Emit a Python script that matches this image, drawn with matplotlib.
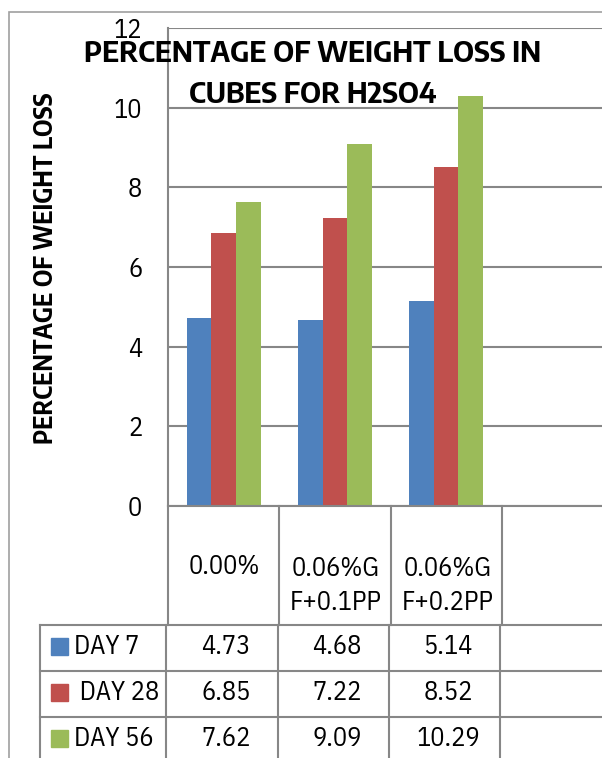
import numpy as np
import matplotlib
matplotlib.use("Agg")
import matplotlib.pyplot as plt
from matplotlib.patches import Rectangle
from matplotlib.lines import Line2D
from matplotlib.transforms import blended_transform_factory

plt.rcParams['font.family'] = ['IBM Plex Sans Condensed', 'DejaVu Sans']
BOLDFONT = ['Encode Sans Semi Condensed', 'DejaVu Sans']

# ---- data ----
categories = ['0.00%', '0.06%G\nF+0.1PP', '0.06%G\nF+0.2PP', '']
series_names = ['DAY 7', ' DAY 28', 'DAY 56']
day7 = [4.73, 4.68, 5.14]
day28 = [6.85, 7.22, 8.52]
day56 = [7.62, 9.09, 10.29]
series_values = [day7, day28, day56]
colors = ['#4F81BD', '#C0504D', '#9BBB59']
yticks = [0, 2, 4, 6, 8, 10, 12]
title = 'PERCENTAGE OF WEIGHT LOSS IN\nCUBES FOR H2SO4'
ylabel = 'PERCENTAGE OF WEIGHT LOSS'

W, H = 602, 758
GRID = '#878787'
TXT = 19


def fy(py):
    return 1 - py / H


fig = plt.figure(figsize=(W / 100, H / 100), dpi=100)

# outer chart border
fig.patches.append(Rectangle((9 / W, -0.1), 1.2, fy(12) + 0.1, transform=fig.transFigure,
                             fill=False, edgecolor='#A0A0A0', lw=1.2))

ax = fig.add_axes([168 / W, fy(506), (613 - 168) / W, (506 - 28) / H])
n = len(categories)
x = np.arange(n)
bw = 0.222
for i, (vals, c) in enumerate(zip(series_values, colors)):
    ax.bar(x[:len(vals)] + (i - 1) * bw, vals, width=bw, color=c, zorder=3)

ax.set_xlim(-0.5, n - 0.5)
ax.set_ylim(0, 12)
ax.set_yticks(yticks)
ax.set_yticklabels([str(t) for t in yticks], fontsize=TXT)
ax.tick_params(axis='y', length=0, pad=18.5)
ax.set_xticks([])
ax.yaxis.grid(True, color=GRID, lw=1.5, zorder=0)
for s in ['right', 'bottom', 'top']:
    ax.spines[s].set_visible(False)
ax.spines['left'].set_color(GRID)
ax.spines['left'].set_linewidth(1.5)
ax.axhline(0, color=GRID, lw=1.5, zorder=4, clip_on=False)

# ---- data table below the axes ----
tr = blended_transform_factory(ax.transData, fig.transFigure)
row_tops = [625, 671, 717, 763]
bounds = np.arange(n + 1) - 0.5
for b in bounds:
    fig.add_artist(Line2D([b, b], [fy(506), fy(625)], transform=tr, color=GRID, lw=1.5))
    fig.add_artist(Line2D([b - 0.015, b - 0.015], [fy(625), fy(763)], transform=tr, color=GRID, lw=1.5))
fig.add_artist(Line2D([40 / W, 1.0], [fy(625), fy(625)], transform=fig.transFigure, color=GRID, lw=1.5))
for yt in row_tops[1:]:
    fig.add_artist(Line2D([40 / W, 1.0], [fy(yt), fy(yt)], transform=fig.transFigure, color=GRID, lw=1.5))
fig.add_artist(Line2D([40 / W, 40 / W], [fy(625), fy(763)], transform=fig.transFigure, color=GRID, lw=1.5))

for xi, cat in zip(x, categories):
    nl = cat.count('\n')
    fig.text(xi + 0.01, fy(567 + nl * 18.5), cat, transform=tr, ha='center', va='center',
             multialignment='center', fontsize=TXT, linespacing=1.45)

for r, (name, vals, c) in enumerate(zip(series_names, series_values, colors)):
    yc = (row_tops[r] + row_tops[r + 1]) / 2 - 2
    fig.patches.append(Rectangle((51 / W, fy(yc + 8.5)), 17 / W, 17 / H, transform=fig.transFigure,
                                 color=c))
    fig.text(74 / W, fy(yc), name, ha='left', va='center', fontsize=TXT)
    for xi, v in zip(x, vals):
        fig.text(xi + 0.02, fy(yc), f'{v:.2f}', transform=tr, ha='center', va='center', fontsize=TXT)

fig.text(313 / W, fy(74), title, ha='center', va='center', fontsize=21, fontweight='bold',
         linespacing=1.5, family=BOLDFONT)
fig.text(46 / W, fy(268), ylabel, rotation=90, ha='center', va='center', fontsize=17.5,
         fontweight='bold', family=BOLDFONT)

fig.savefig('out.png', dpi=100)
